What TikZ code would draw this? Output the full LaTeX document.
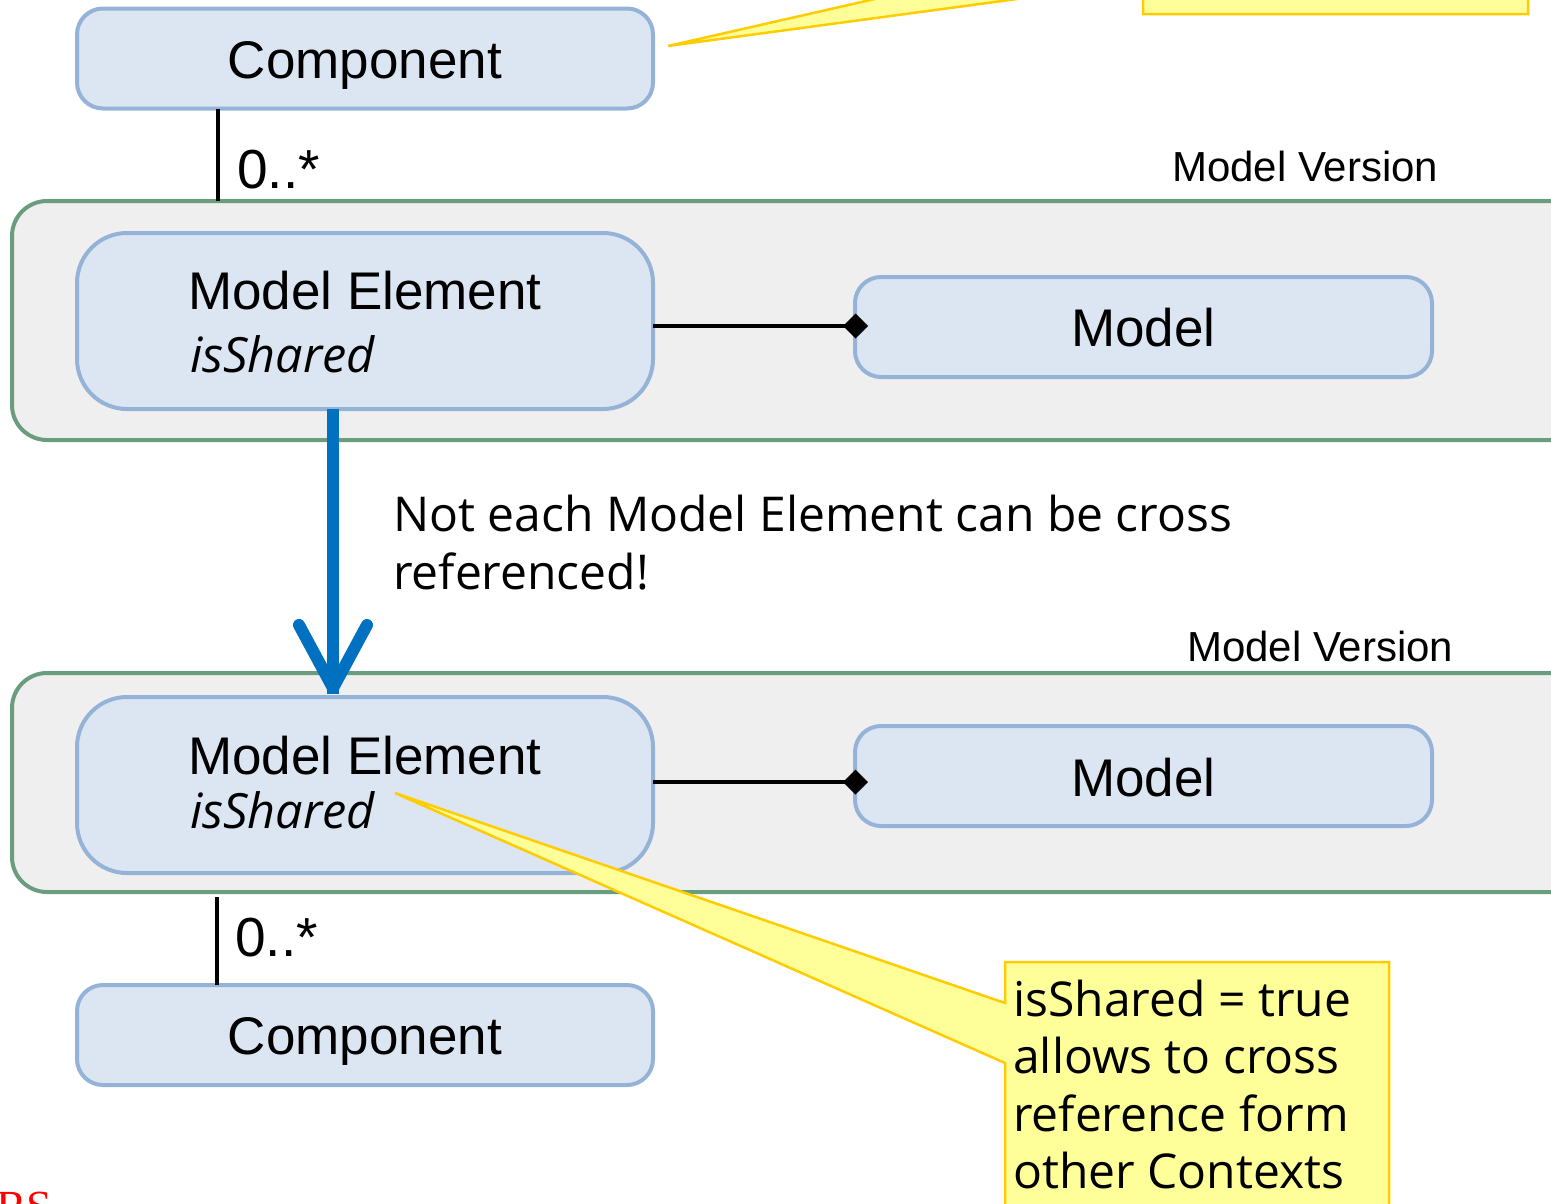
\documentclass[tikz,border=0pt]{standalone}
\usepackage{fontspec}
\setmainfont{Liberation Sans}
\newfontfamily\seg{Open Sans}
\newfontfamily\redserif{Liberation Serif}
\usetikzlibrary{arrows.meta}
\definecolor{boxfill}{HTML}{DCE6F2}
\definecolor{boxline}{HTML}{95B3D7}
\definecolor{contfill}{HTML}{EFEFEF}
\definecolor{contline}{HTML}{6A9C7E}
\definecolor{notefill}{HTML}{FFFF99}
\definecolor{noteline}{HTML}{FFCC00}
\definecolor{arrblue}{HTML}{0070C0}
\tikzset{
  container/.style={draw=contline, fill=contfill, line width=4pt, rounded corners=35pt, inner sep=0pt, outer sep=0pt},
  compbox/.style={draw=boxline, fill=boxfill, line width=4pt, rounded corners=26pt, minimum width=576pt, minimum height=100pt, inner sep=0pt, outer sep=0pt},
  mebox/.style={draw=boxline, fill=boxfill, line width=4pt, rounded corners=50pt, minimum width=576pt, minimum height=176pt, inner sep=0pt, outer sep=0pt},
  modelbox/.style={draw=boxline, fill=boxfill, line width=4pt, rounded corners=26pt, minimum width=577pt, minimum height=100pt, inner sep=0pt, outer sep=0pt},
  bigtxt/.style={font=\fontsize{53}{60}\selectfont, inner sep=0pt},
  mvtxt/.style={font=\fontsize{42}{48}\selectfont, inner sep=0pt},
  multtxt/.style={font=\fontsize{55}{60}\selectfont, inner sep=0pt},
  segtxt/.style={font=\seg\fontsize{48}{58}\selectfont, inner sep=0pt},
  notetxt/.style={font=\seg\fontsize{48}{58}\selectfont, inner sep=0pt, anchor=base west},
  isshared/.style={font=\seg\itshape\fontsize{48.6}{54}\selectfont, inner sep=0pt},
  assoc/.style={line width=4.5pt, black},
  comp/.style={line width=4.5pt, black, -{Diamond[length=25pt,width=25pt]}},
  bluearr/.style={line width=12pt, arrblue},
  note/.style={draw=noteline, fill=notefill, line width=2.5pt, line join=miter},
}
\begin{document}
\begin{tikzpicture}[x=1pt,y=-1pt]
\useasboundingbox (0,0) rectangle (1551,1203);
\clip (0,0) rectangle (1551,1203);
% containers
\node[container, minimum width=1588pt, minimum height=239pt] (cont1) at (806,320.5) {};
\node[container, minimum width=1588pt, minimum height=219pt] (cont2) at (806,782.5) {};
\node[mvtxt, anchor=base west] (mv1) at (1172,181) {Model Version};
\node[mvtxt, anchor=base west] (mv2) at (1187,661) {Model Version};
% boxes
\node[compbox] (comp1) at (365,58.5) {};
\node[bigtxt, anchor=base] (comp1t) at (365,78) {Component};
\node[mebox] (me1) at (365,321) {};
\node[bigtxt, anchor=base] (me1t) at (365,309) {Model Element};
\node[isshared, anchor=base west] (me1s) at (190,372) {isShared};
\node[modelbox] (model1) at (1143.5,327) {};
\node[bigtxt, anchor=base] (model1t) at (1143.5,346) {Model};
\node[mebox] (me2) at (365,785) {};
\node[bigtxt, anchor=base] (me2t) at (365,774) {Model Element};
\node[isshared, anchor=base west] (me2s) at (190,828) {isShared};
\node[modelbox] (model2) at (1143.5,776) {};
\node[bigtxt, anchor=base] (model2t) at (1143.5,796) {Model};
\node[compbox] (comp2) at (365,1035) {};
\node[bigtxt, anchor=base] (comp2t) at (365,1054) {Component};
% associations
\coordinate (c1a) at ([xshift=141pt]comp1.south west);
\draw[assoc] (c1a) -- (c1a |- cont1.north);
\node[multtxt, anchor=base west] (m1) at (237,188) {0..*};
\coordinate (c2a) at ([xshift=140pt]comp2.north west);
\draw[assoc] (c2a) -- ([yshift=-5pt]c2a |- cont2.south);
\node[multtxt, anchor=base west] (m2) at (235,956) {0..*};
% compositions
\draw[comp] (me1.east |- 0,326) -- ([xshift=13pt]model1.west |- 0,326);
\draw[comp] (me2.east |- 0,782) -- ([xshift=13pt]model2.west |- 0,782);
% blue arrow
\coordinate (tipc) at ([xshift=-32pt,yshift=9pt]me2.north);
\draw[bluearr] ([xshift=-32pt]me1.south) -- ([yshift=-6pt]tipc);
\draw[bluearr, line cap=round, line join=round] ([shift={(-34,-63)}]tipc) -- (tipc) -- ([shift={(34,-63)}]tipc);
\node[segtxt, anchor=base west] (crosst) at (393,531) {Not each Model Element can be cross};
\node[segtxt, anchor=base west] (crosst2) at (393,589) {referenced!};
% bottom callout
\coordinate (ntip) at (395,793);
\draw[note] (1005,962) -- (1389,962) -- (1389,1260) -- (1005,1260) -- (1005,1063) -- (ntip) -- (1005,1003) -- cycle;
\node[notetxt] (note1) at (1013,1016) {isShared = true};
\node[notetxt] (note2) at (1013,1073.5) {allows to cross};
\node[notetxt] (note3) at (1013,1131) {reference form};
\node[notetxt] (note4) at (1013,1188.5) {other Contexts};
% top callout (cut off)
\coordinate (ttip) at (668,46);
\draw[note] (1143,-300) -- (1528,-300) -- (1528,14) -- (1143,14) -- (1143,-18) -- (ttip) -- (1143,-62) -- cycle;
% red text cut off at the edge, as in the reference
\node[font=\redserif\fontsize{46}{50}\selectfont, text=red, anchor=base west, inner sep=0pt] (rs) at (-4,1222) {RS};
\end{tikzpicture}
\end{document}
